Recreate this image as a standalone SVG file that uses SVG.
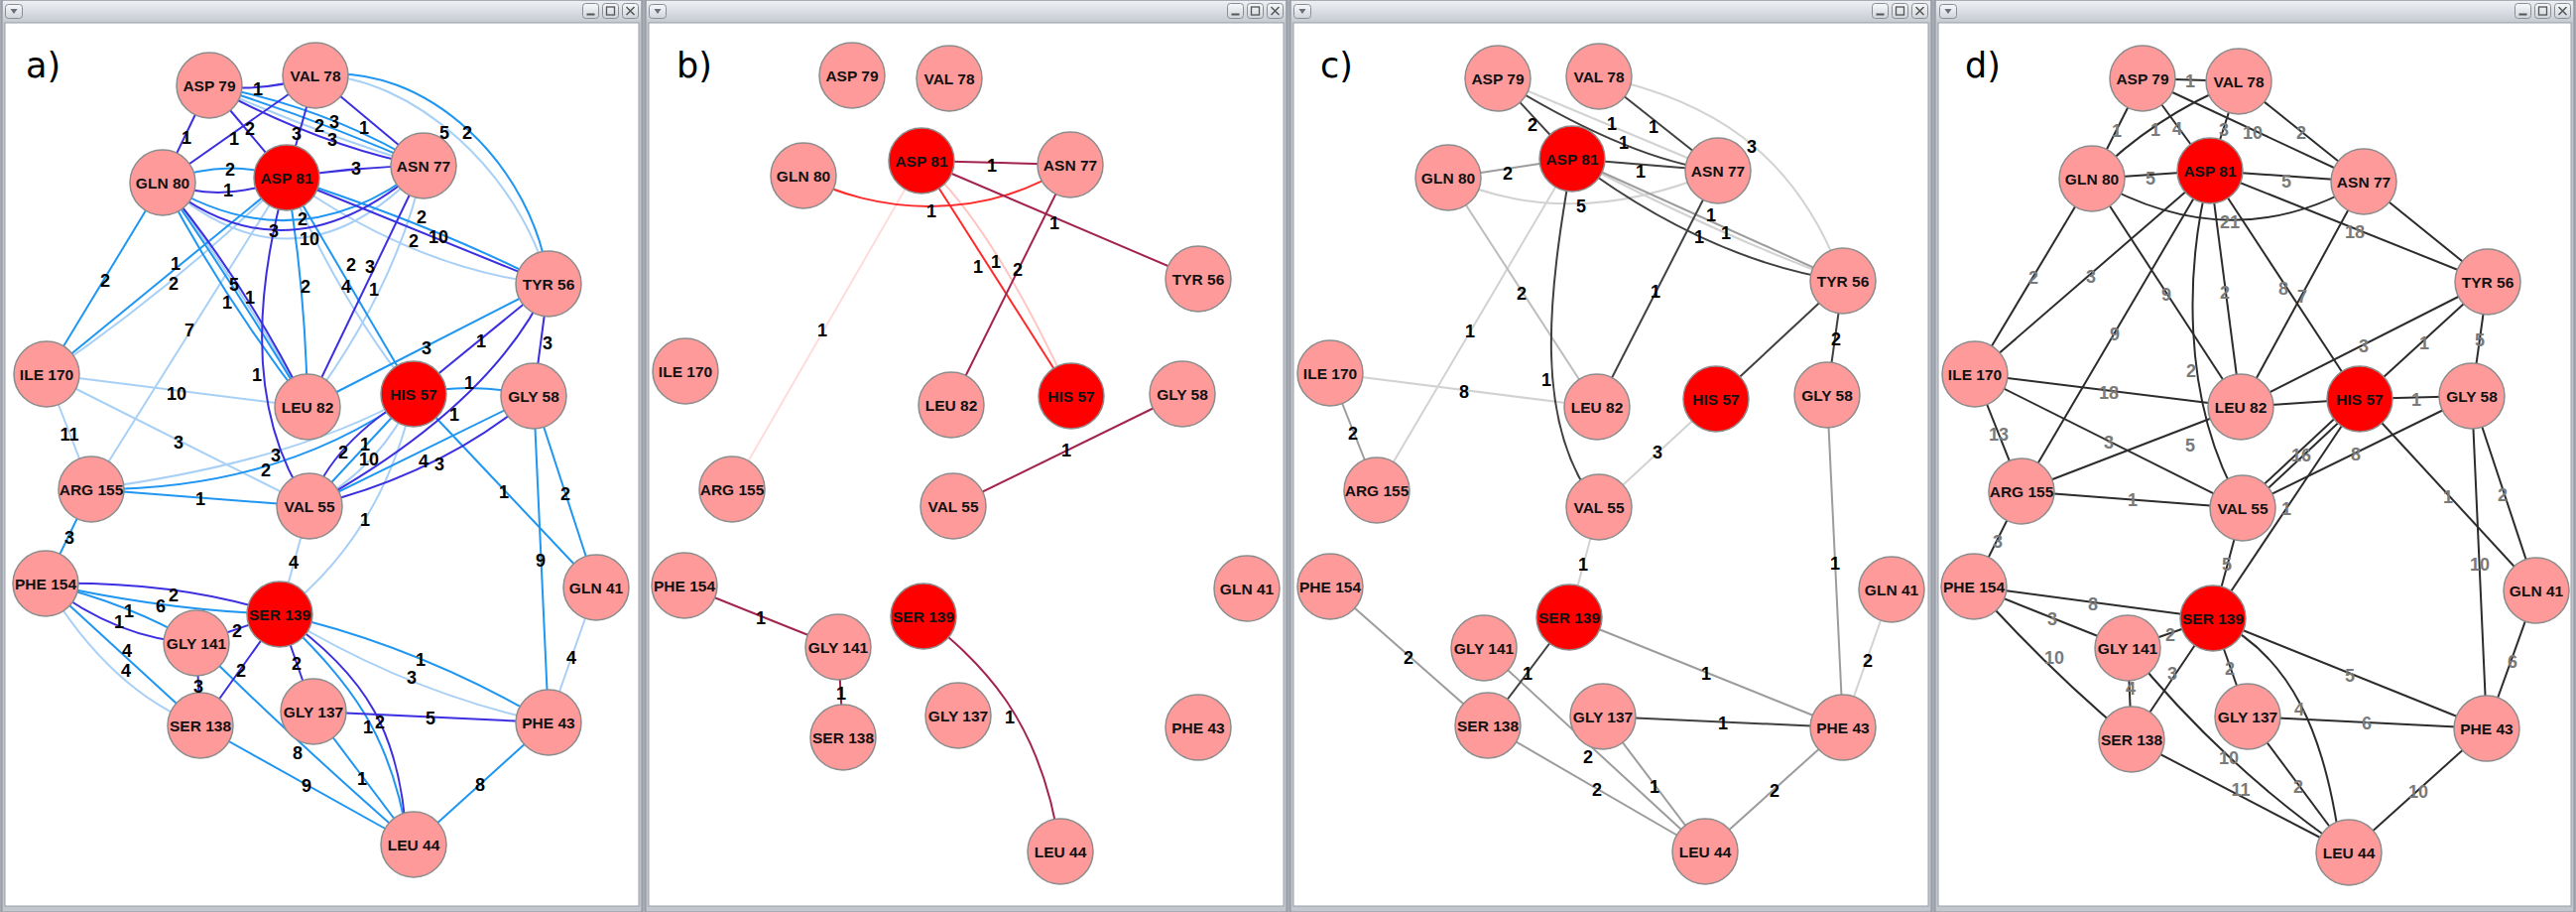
<svg xmlns="http://www.w3.org/2000/svg" width="2597" height="919" viewBox="0 0 2597 919">
<defs>
<linearGradient id="tbg" x1="0" y1="0" x2="0" y2="1"><stop offset="0" stop-color="#eef0f4"/><stop offset="1" stop-color="#c6cad2"/></linearGradient>
<linearGradient id="btg" x1="0" y1="0" x2="0" y2="1"><stop offset="0" stop-color="#f8f9fb"/><stop offset="1" stop-color="#cfd3da"/></linearGradient>
<g id="btnL"><rect x="0.5" y="0.5" width="17" height="14" rx="3" fill="url(#btg)" stroke="#8a8e96"/><path d="M5.5,5 h7 l-3.5,5 z" fill="#6a6e76"/></g>
<g id="btnR"><rect x="0.5" y="0.5" width="16" height="15" rx="3" fill="url(#btg)" stroke="#8a8e96"/><path d="M4.5,11.5 h8" stroke="#555" stroke-width="2"/><rect x="20.5" y="0.5" width="16" height="15" rx="3" fill="url(#btg)" stroke="#8a8e96"/><rect x="24.5" y="4" width="8" height="8" fill="none" stroke="#555" stroke-width="1.3"/><rect x="40.5" y="0.5" width="16" height="15" rx="3" fill="url(#btg)" stroke="#8a8e96"/><path d="M44.5,4 l8,8 M52.5,4 l-8,8" stroke="#555" stroke-width="1.5"/></g>
</defs>
<style>
.frame{fill:#c2c6ce;stroke:#8e929a;stroke-width:1}
.tb{fill:url(#tbg)}
.content{fill:#ffffff;stroke:#9a9ea6;stroke-width:1}
.node circle{stroke:#8c8c8c;stroke-width:1.5}
.p{fill:#ff9a9a}
.r{fill:#ff0000}
.nt{font-family:"Liberation Sans",Arial,sans-serif;font-weight:bold;font-size:15.5px;text-anchor:middle;fill:#111}
.el{font-family:"Liberation Sans",Arial,sans-serif;font-weight:bold;font-size:18px;text-anchor:middle;fill:#000}
.eg{fill:#7a7a7a}
.pl{font-family:"DejaVu Sans",sans-serif;font-size:35px;fill:#000}
.e path,.e line{fill:none;stroke-width:2}
.ad{stroke:#3b2fe0}.am{stroke:#1e96f2}.al{stroke:#a8d0f6}
.bm{stroke:#a3234f}.br{stroke:#ff2a2a}.bl{stroke:#ffc4c4}.bv{stroke:#ffdcdc}
.cd{stroke:#404040}.cg{stroke:#9c9c9c}.cl{stroke:#d2d2d2}.cm{stroke:#bdbdbd}
.dd{stroke:#2c2c2c}
</style>
<rect x="0" y="0" width="2597" height="919" fill="#a6aab2"/>

<!-- ============ PANEL A ============ -->
<g id="panel-a">
<rect class="frame" x="2" y="0" width="645" height="919"/>
<rect class="tb" x="3" y="1" width="643" height="21"/>
<use href="#btnL" x="5" y="4"/>
<use href="#btnR" x="587" y="3"/>
<rect class="content" x="5" y="23" width="639" height="890"/>
<text class="pl" x="26" y="78">a)</text>
<g id="a-connectors" class="e">
<path class="al" d="M211,86 Q320,135 427,167"/>
<path class="al" d="M318,76 C415,75 525,175 553,286"/>
<path class="al" d="M164,184 Q300,305 427,167"/>
<path class="al" d="M289,179 Q420,272 553,286"/>
<path class="al" d="M289,179 Q340,300 417,397"/>
<path class="al" d="M427,167 Q400,290 310,410"/>
<path class="al" d="M289,179 Q175,290 47,377"/>
<line class="al" x1="289" y1="179" x2="92" y2="493"/>
<path class="al" d="M164,184 Q245,290 310,410"/>
<path class="al" d="M417,397 Q385,470 312,510"/>
<path class="al" d="M417,397 Q301,465 92,493"/>
<path class="al" d="M417,397 Q387,538 282,619"/>
<line class="al" x1="47" y1="377" x2="310" y2="410"/>
<line class="al" x1="47" y1="377" x2="312" y2="510"/>
<line class="al" x1="47" y1="377" x2="92" y2="493"/>
<line class="al" x1="312" y1="510" x2="282" y2="619"/>
<path class="al" d="M46,588 Q112,697 202,731"/>
<path class="al" d="M282,619 Q415,700 553,728"/>
<line class="al" x1="601" y1="592" x2="553" y2="728"/>
<path class="am" d="M211,86 Q320,120 427,167"/>
<path class="am" d="M211,86 Q330,108 427,167"/>
<path class="am" d="M318,76 C430,60 540,170 553,286"/>
<path class="am" d="M164,184 Q226,158 289,179"/>
<path class="am" d="M164,184 Q300,268 427,167"/>
<path class="am" d="M289,179 Q440,228 553,286"/>
<line class="am" x1="289" y1="179" x2="417" y2="397"/>
<line class="am" x1="164" y1="184" x2="47" y2="377"/>
<line class="am" x1="289" y1="179" x2="47" y2="377"/>
<path class="am" d="M164,184 Q235,285 310,410"/>
<path class="am" d="M164,184 Q226,302 310,410"/>
<path class="am" d="M289,179 Q308,290 310,410"/>
<line class="am" x1="553" y1="286" x2="310" y2="410"/>
<path class="am" d="M417,397 Q477,384 538,399"/>
<line class="am" x1="417" y1="397" x2="312" y2="510"/>
<line class="am" x1="538" y1="399" x2="312" y2="510"/>
<path class="am" d="M417,397 Q281,495 92,493"/>
<line class="am" x1="417" y1="397" x2="601" y2="592"/>
<line class="am" x1="538" y1="399" x2="601" y2="592"/>
<line class="am" x1="538" y1="399" x2="553" y2="728"/>
<line class="am" x1="92" y1="493" x2="312" y2="510"/>
<line class="am" x1="92" y1="493" x2="46" y2="588"/>
<path class="am" d="M46,588 Q165,615 282,619"/>
<path class="am" d="M46,588 Q130,608 198,648"/>
<line class="am" x1="46" y1="588" x2="202" y2="731"/>
<path class="am" d="M282,619 Q420,650 553,728"/>
<path class="am" d="M282,619 C355,690 395,740 412,851"/>
<path class="am" d="M198,648 Q290,740 417,851"/>
<line class="am" x1="202" y1="731" x2="417" y2="851"/>
<line class="am" x1="316" y1="717" x2="417" y2="851"/>
<line class="am" x1="553" y1="728" x2="417" y2="851"/>
<path class="ad" d="M211,86 Q265,94 318,76"/>
<line class="ad" x1="211" y1="86" x2="164" y2="184"/>
<line class="ad" x1="211" y1="86" x2="289" y2="179"/>
<line class="ad" x1="318" y1="76" x2="164" y2="184"/>
<line class="ad" x1="318" y1="76" x2="289" y2="179"/>
<line class="ad" x1="318" y1="76" x2="427" y2="167"/>
<path class="ad" d="M211,86 Q325,148 427,167"/>
<path class="ad" d="M164,184 Q226,206 289,179"/>
<path class="ad" d="M289,179 Q358,168 427,167"/>
<path class="ad" d="M164,184 Q290,288 427,167"/>
<line class="ad" x1="289" y1="179" x2="553" y2="286"/>
<line class="ad" x1="427" y1="167" x2="310" y2="410"/>
<path class="ad" d="M164,184 Q250,288 310,410"/>
<path class="ad" d="M289,179 C255,300 250,420 312,510"/>
<line class="ad" x1="553" y1="286" x2="417" y2="397"/>
<line class="ad" x1="553" y1="286" x2="538" y2="399"/>
<path class="ad" d="M553,286 Q495,410 312,510"/>
<path class="ad" d="M417,397 Q335,445 312,510"/>
<path class="ad" d="M538,399 Q445,478 312,510"/>
<path class="ad" d="M46,588 Q180,585 282,619"/>
<path class="ad" d="M46,588 Q120,645 198,648"/>
<line class="ad" x1="198" y1="648" x2="282" y2="619"/>
<line class="ad" x1="198" y1="648" x2="202" y2="731"/>
<line class="ad" x1="202" y1="731" x2="282" y2="619"/>
<line class="ad" x1="282" y1="619" x2="316" y2="717"/>
<line class="ad" x1="316" y1="717" x2="553" y2="728"/>
<path class="ad" d="M282,619 C370,680 405,740 410,851"/>
</g>
<g id="a-nodes">
<g id="a-asp79" class="node"><circle class="p" cx="211" cy="86" r="33"/><text class="nt" x="211" y="91.5">ASP 79</text></g>
<g id="a-val78" class="node"><circle class="p" cx="318" cy="76" r="33"/><text class="nt" x="318" y="81.5">VAL 78</text></g>
<g id="a-gln80" class="node"><circle class="p" cx="164" cy="184" r="33"/><text class="nt" x="164" y="189.5">GLN 80</text></g>
<g id="a-asp81" class="node"><circle class="r" cx="289" cy="179" r="33"/><text class="nt" x="289" y="184.5">ASP 81</text></g>
<g id="a-asn77" class="node"><circle class="p" cx="427" cy="167" r="33"/><text class="nt" x="427" y="172.5">ASN 77</text></g>
<g id="a-tyr56" class="node"><circle class="p" cx="553" cy="286" r="33"/><text class="nt" x="553" y="291.5">TYR 56</text></g>
<g id="a-ile170" class="node"><circle class="p" cx="47" cy="377" r="33"/><text class="nt" x="47" y="382.5">ILE 170</text></g>
<g id="a-leu82" class="node"><circle class="p" cx="310" cy="410" r="33"/><text class="nt" x="310" y="415.5">LEU 82</text></g>
<g id="a-his57" class="node"><circle class="r" cx="417" cy="397" r="33"/><text class="nt" x="417" y="402.5">HIS 57</text></g>
<g id="a-gly58" class="node"><circle class="p" cx="538" cy="399" r="33"/><text class="nt" x="538" y="404.5">GLY 58</text></g>
<g id="a-arg155" class="node"><circle class="p" cx="92" cy="493" r="33"/><text class="nt" x="92" y="498.5">ARG 155</text></g>
<g id="a-val55" class="node"><circle class="p" cx="312" cy="510" r="33"/><text class="nt" x="312" y="515.5">VAL 55</text></g>
<g id="a-phe154" class="node"><circle class="p" cx="46" cy="588" r="33"/><text class="nt" x="46" y="593.5">PHE 154</text></g>
<g id="a-ser139" class="node"><circle class="r" cx="282" cy="619" r="33"/><text class="nt" x="282" y="624.5">SER 139</text></g>
<g id="a-gln41" class="node"><circle class="p" cx="601" cy="592" r="33"/><text class="nt" x="601" y="597.5">GLN 41</text></g>
<g id="a-gly141" class="node"><circle class="p" cx="198" cy="648" r="33"/><text class="nt" x="198" y="653.5">GLY 141</text></g>
<g id="a-ser138" class="node"><circle class="p" cx="202" cy="731" r="33"/><text class="nt" x="202" y="736.5">SER 138</text></g>
<g id="a-gly137" class="node"><circle class="p" cx="316" cy="717" r="33"/><text class="nt" x="316" y="722.5">GLY 137</text></g>
<g id="a-phe43" class="node"><circle class="p" cx="553" cy="728" r="33"/><text class="nt" x="553" y="733.5">PHE 43</text></g>
<g id="a-leu44" class="node"><circle class="p" cx="417" cy="851" r="33"/><text class="nt" x="417" y="856.5">LEU 44</text></g>
</g>
<g id="a-labels" class="el">
<text x="260" y="95.5">1</text><text x="188" y="144.5">1</text><text x="252" y="135.5">2</text><text x="236" y="145.5">1</text>
<text x="299" y="140.5">3</text><text x="367" y="134.5">1</text><text x="322" y="132.5">2</text><text x="337" y="128.5">3</text>
<text x="335" y="146.5">3</text><text x="448" y="139.5">5</text><text x="471" y="139.5">2</text><text x="232" y="176.5">2</text>
<text x="230" y="197.5">1</text><text x="359" y="175.5">3</text><text x="305" y="226.5">2</text><text x="276" y="238.5">3</text>
<text x="312" y="246.5">10</text><text x="425" y="224.5">2</text><text x="417" y="248.5">2</text><text x="442" y="244.5">10</text>
<text x="354" y="272.5">2</text><text x="373" y="274.5">3</text><text x="177" y="271.5">1</text><text x="175" y="291.5">2</text>
<text x="106" y="288.5">2</text><text x="236" y="292.5">5</text><text x="229" y="310.5">1</text><text x="252" y="305.5">1</text>
<text x="308" y="294.5">2</text><text x="349" y="294.5">4</text><text x="377" y="297.5">1</text><text x="191" y="338.5">7</text>
<text x="259" y="383.5">1</text><text x="430" y="356.5">3</text><text x="485" y="349.5">1</text><text x="552" y="351.5">3</text>
<text x="473" y="391.5">1</text><text x="178" y="402.5">10</text><text x="458" y="423.5">1</text><text x="70" y="443.5">11</text>
<text x="180" y="451.5">3</text><text x="278" y="464.5">3</text><text x="268" y="479.5">2</text><text x="346" y="461.5">2</text>
<text x="368" y="453.5">1</text><text x="372" y="468.5">10</text><text x="427" y="470.5">4</text><text x="443" y="473.5">3</text>
<text x="508" y="501.5">1</text><text x="570" y="503.5">2</text><text x="202" y="508.5">1</text><text x="368" y="529.5">1</text>
<text x="70" y="547.5">3</text><text x="545" y="570.5">9</text><text x="296" y="572.5">4</text><text x="175" y="605.5">2</text>
<text x="162" y="616.5">6</text><text x="130" y="621.5">1</text><text x="120" y="632.5">1</text><text x="239" y="641.5">2</text>
<text x="128" y="661.5">4</text><text x="127" y="681.5">4</text><text x="243" y="681.5">2</text><text x="299" y="674.5">2</text>
<text x="200" y="697.5">3</text><text x="424" y="670.5">1</text><text x="415" y="688.5">3</text><text x="576" y="668.5">4</text>
<text x="434" y="729.5">5</text><text x="383" y="733.5">2</text><text x="371" y="738.5">1</text><text x="300" y="764.5">8</text>
<text x="365" y="790.5">1</text><text x="309" y="797.5">9</text><text x="484" y="796.5">8</text>
</g>
</g>

<!-- ============ PANEL B ============ -->
<g id="panel-b">
<rect class="frame" x="651" y="0" width="646" height="919"/>
<rect class="tb" x="652" y="1" width="644" height="21"/>
<use href="#btnL" x="654" y="4"/>
<use href="#btnR" x="1237" y="3"/>
<rect class="content" x="654" y="23" width="640" height="890"/>
<text class="pl" x="682" y="78">b)</text>
<g id="b-connectors" class="e">
<line class="bv" x1="929" y1="162" x2="738" y2="493"/>
<path class="bl" d="M929,162 Q1000,225 1080,399"/>
<line class="bm" x1="929" y1="162" x2="1079" y2="166"/>
<path class="br" d="M810,177 C880,215 990,225 1079,166"/>
<line class="bm" x1="929" y1="162" x2="1208" y2="281"/>
<line class="br" x1="929" y1="162" x2="1080" y2="399"/>
<line class="bm" x1="1079" y1="166" x2="959" y2="408"/>
<line class="bm" x1="1192" y1="397" x2="961" y2="510"/>
<line class="bm" x1="690" y1="590" x2="845" y2="652"/>
<line class="bm" x1="845" y1="652" x2="850" y2="743"/>
<path class="bm" d="M931,621 C985,665 1050,720 1069,858"/>
</g>
<g id="b-nodes">
<g id="b-asp79" class="node"><circle class="p" cx="859" cy="76" r="33"/><text class="nt" x="859" y="81.5">ASP 79</text></g>
<g id="b-val78" class="node"><circle class="p" cx="957" cy="79" r="33"/><text class="nt" x="957" y="84.5">VAL 78</text></g>
<g id="b-gln80" class="node"><circle class="p" cx="810" cy="177" r="33"/><text class="nt" x="810" y="182.5">GLN 80</text></g>
<g id="b-asp81" class="node"><circle class="r" cx="929" cy="162" r="33"/><text class="nt" x="929" y="167.5">ASP 81</text></g>
<g id="b-asn77" class="node"><circle class="p" cx="1079" cy="166" r="33"/><text class="nt" x="1079" y="171.5">ASN 77</text></g>
<g id="b-tyr56" class="node"><circle class="p" cx="1208" cy="281" r="33"/><text class="nt" x="1208" y="286.5">TYR 56</text></g>
<g id="b-ile170" class="node"><circle class="p" cx="691" cy="374" r="33"/><text class="nt" x="691" y="379.5">ILE 170</text></g>
<g id="b-leu82" class="node"><circle class="p" cx="959" cy="408" r="33"/><text class="nt" x="959" y="413.5">LEU 82</text></g>
<g id="b-his57" class="node"><circle class="r" cx="1080" cy="399" r="33"/><text class="nt" x="1080" y="404.5">HIS 57</text></g>
<g id="b-gly58" class="node"><circle class="p" cx="1192" cy="397" r="33"/><text class="nt" x="1192" y="402.5">GLY 58</text></g>
<g id="b-arg155" class="node"><circle class="p" cx="738" cy="493" r="33"/><text class="nt" x="738" y="498.5">ARG 155</text></g>
<g id="b-val55" class="node"><circle class="p" cx="961" cy="510" r="33"/><text class="nt" x="961" y="515.5">VAL 55</text></g>
<g id="b-phe154" class="node"><circle class="p" cx="690" cy="590" r="33"/><text class="nt" x="690" y="595.5">PHE 154</text></g>
<g id="b-ser139" class="node"><circle class="r" cx="931" cy="621" r="33"/><text class="nt" x="931" y="626.5">SER 139</text></g>
<g id="b-gln41" class="node"><circle class="p" cx="1257" cy="593" r="33"/><text class="nt" x="1257" y="598.5">GLN 41</text></g>
<g id="b-gly141" class="node"><circle class="p" cx="845" cy="652" r="33"/><text class="nt" x="845" y="657.5">GLY 141</text></g>
<g id="b-ser138" class="node"><circle class="p" cx="850" cy="743" r="33"/><text class="nt" x="850" y="748.5">SER 138</text></g>
<g id="b-gly137" class="node"><circle class="p" cx="966" cy="721" r="33"/><text class="nt" x="966" y="726.5">GLY 137</text></g>
<g id="b-phe43" class="node"><circle class="p" cx="1208" cy="733" r="33"/><text class="nt" x="1208" y="738.5">PHE 43</text></g>
<g id="b-leu44" class="node"><circle class="p" cx="1069" cy="858" r="33"/><text class="nt" x="1069" y="863.5">LEU 44</text></g>
</g>
<g id="b-labels" class="el">
<text x="1000" y="172.5">1</text><text x="939" y="218.5">1</text><text x="1063" y="230.5">1</text><text x="986" y="274.5">1</text>
<text x="1004" y="269.5">1</text><text x="1026" y="277.5">2</text><text x="829" y="338.5">1</text><text x="1075" y="459.5">1</text>
<text x="767" y="628.5">1</text><text x="848" y="704.5">1</text><text x="1018" y="728.5">1</text>
</g>
</g>

<!-- ============ PANEL C ============ -->
<g id="panel-c">
<rect class="frame" x="1301" y="0" width="646" height="919"/>
<rect class="tb" x="1302" y="1" width="644" height="21"/>
<use href="#btnL" x="1304" y="4"/>
<use href="#btnR" x="1887" y="3"/>
<rect class="content" x="1304" y="23" width="640" height="890"/>
<text class="pl" x="1331" y="78">c)</text>
<g id="c-connectors" class="e">
<line class="cl" x1="1510" y1="79" x2="1732" y2="172"/>
<path class="cl" d="M1612,77 C1720,100 1810,150 1858,283"/>
<path class="cl" d="M1460,179 Q1584,235 1732,172"/>
<path class="cl" d="M1585,160 Q1735,238 1858,283"/>
<line class="cl" x1="1585" y1="160" x2="1388" y2="494"/>
<line class="cl" x1="1341" y1="376" x2="1610" y2="410"/>
<line class="cl" x1="1730" y1="402" x2="1612" y2="511"/>
<line class="cl" x1="1612" y1="511" x2="1582" y2="622"/>
<line class="cl" x1="1907" y1="594" x2="1858" y2="733"/>
<line class="cm" x1="1460" y1="179" x2="1610" y2="410"/>
<line class="cg" x1="1460" y1="179" x2="1585" y2="160"/>
<line class="cg" x1="1585" y1="160" x2="1858" y2="283"/>
<line class="cg" x1="1341" y1="376" x2="1388" y2="494"/>
<line class="cg" x1="1842" y1="398" x2="1858" y2="733"/>
<line class="cg" x1="1582" y1="622" x2="1858" y2="733"/>
<line class="cg" x1="1341" y1="591" x2="1500" y2="731"/>
<line class="cg" x1="1496" y1="653" x2="1719" y2="858"/>
<line class="cg" x1="1500" y1="731" x2="1719" y2="858"/>
<line class="cg" x1="1616" y1="722" x2="1719" y2="858"/>
<line class="cg" x1="1858" y1="733" x2="1719" y2="858"/>
<line class="cd" x1="1510" y1="79" x2="1585" y2="160"/>
<path class="cd" d="M1510,79 Q1640,160 1732,172"/>
<line class="cd" x1="1612" y1="77" x2="1732" y2="172"/>
<line class="cd" x1="1585" y1="160" x2="1732" y2="172"/>
<path class="cd" d="M1585,160 C1560,300 1545,430 1612,511"/>
<path class="cd" d="M1585,160 Q1720,262 1858,283"/>
<line class="cd" x1="1732" y1="172" x2="1610" y2="410"/>
<line class="cd" x1="1858" y1="283" x2="1730" y2="402"/>
<line class="cd" x1="1858" y1="283" x2="1842" y2="398"/>
<line class="cd" x1="1582" y1="622" x2="1500" y2="731"/>
<line class="cd" x1="1616" y1="722" x2="1858" y2="733"/>
</g>
<g id="c-nodes">
<g id="c-asp79" class="node"><circle class="p" cx="1510" cy="79" r="33"/><text class="nt" x="1510" y="84.5">ASP 79</text></g>
<g id="c-val78" class="node"><circle class="p" cx="1612" cy="77" r="33"/><text class="nt" x="1612" y="82.5">VAL 78</text></g>
<g id="c-gln80" class="node"><circle class="p" cx="1460" cy="179" r="33"/><text class="nt" x="1460" y="184.5">GLN 80</text></g>
<g id="c-asp81" class="node"><circle class="r" cx="1585" cy="160" r="33"/><text class="nt" x="1585" y="165.5">ASP 81</text></g>
<g id="c-asn77" class="node"><circle class="p" cx="1732" cy="172" r="33"/><text class="nt" x="1732" y="177.5">ASN 77</text></g>
<g id="c-tyr56" class="node"><circle class="p" cx="1858" cy="283" r="33"/><text class="nt" x="1858" y="288.5">TYR 56</text></g>
<g id="c-ile170" class="node"><circle class="p" cx="1341" cy="376" r="33"/><text class="nt" x="1341" y="381.5">ILE 170</text></g>
<g id="c-leu82" class="node"><circle class="p" cx="1610" cy="410" r="33"/><text class="nt" x="1610" y="415.5">LEU 82</text></g>
<g id="c-his57" class="node"><circle class="r" cx="1730" cy="402" r="33"/><text class="nt" x="1730" y="407.5">HIS 57</text></g>
<g id="c-gly58" class="node"><circle class="p" cx="1842" cy="398" r="33"/><text class="nt" x="1842" y="403.5">GLY 58</text></g>
<g id="c-arg155" class="node"><circle class="p" cx="1388" cy="494" r="33"/><text class="nt" x="1388" y="499.5">ARG 155</text></g>
<g id="c-val55" class="node"><circle class="p" cx="1612" cy="511" r="33"/><text class="nt" x="1612" y="516.5">VAL 55</text></g>
<g id="c-phe154" class="node"><circle class="p" cx="1341" cy="591" r="33"/><text class="nt" x="1341" y="596.5">PHE 154</text></g>
<g id="c-ser139" class="node"><circle class="r" cx="1582" cy="622" r="33"/><text class="nt" x="1582" y="627.5">SER 139</text></g>
<g id="c-gln41" class="node"><circle class="p" cx="1907" cy="594" r="33"/><text class="nt" x="1907" y="599.5">GLN 41</text></g>
<g id="c-gly141" class="node"><circle class="p" cx="1496" cy="653" r="33"/><text class="nt" x="1496" y="658.5">GLY 141</text></g>
<g id="c-ser138" class="node"><circle class="p" cx="1500" cy="731" r="33"/><text class="nt" x="1500" y="736.5">SER 138</text></g>
<g id="c-gly137" class="node"><circle class="p" cx="1616" cy="722" r="33"/><text class="nt" x="1616" y="727.5">GLY 137</text></g>
<g id="c-phe43" class="node"><circle class="p" cx="1858" cy="733" r="33"/><text class="nt" x="1858" y="738.5">PHE 43</text></g>
<g id="c-leu44" class="node"><circle class="p" cx="1719" cy="858" r="33"/><text class="nt" x="1719" y="863.5">LEU 44</text></g>
</g>
<g id="c-labels" class="el">
<text x="1545" y="131.5">2</text><text x="1637" y="149.5">1</text><text x="1625" y="130.5">1</text><text x="1667" y="133.5">1</text>
<text x="1766" y="153.5">3</text><text x="1520" y="180.5">2</text><text x="1654" y="178.5">1</text><text x="1594" y="213.5">5</text>
<text x="1559" y="388.5">1</text><text x="1713" y="244.5">1</text><text x="1725" y="222.5">1</text><text x="1740" y="240.5">1</text>
<text x="1669" y="299.5">1</text><text x="1534" y="301.5">2</text><text x="1482" y="339.5">1</text><text x="1476" y="400.5">8</text>
<text x="1364" y="442.5">2</text><text x="1851" y="347.5">2</text><text x="1671" y="461.5">3</text><text x="1850" y="573.5">1</text>
<text x="1596" y="574.5">1</text><text x="1540" y="684.5">1</text><text x="1720" y="684.5">1</text><text x="1420" y="668.5">2</text>
<text x="1883" y="671.5">2</text><text x="1737" y="734.5">1</text><text x="1601" y="768.5">2</text><text x="1610" y="801.5">2</text>
<text x="1668" y="798.5">1</text><text x="1789" y="802.5">2</text>
</g>
</g>

<!-- ============ PANEL D ============ -->
<g id="panel-d">
<rect class="frame" x="1951" y="0" width="644" height="919"/>
<rect class="tb" x="1952" y="1" width="642" height="21"/>
<use href="#btnL" x="1955" y="4"/>
<use href="#btnR" x="2535" y="3"/>
<rect class="content" x="1954" y="23" width="638" height="890"/>
<text class="pl" x="1981" y="78">d)</text>
<g id="d-connectors" class="e">
<line class="dd" x1="2160" y1="79" x2="2257" y2="82"/>
<line class="dd" x1="2160" y1="79" x2="2109" y2="180"/>
<path class="dd" d="M2257,82 Q2170,118 2109,180"/>
<line class="dd" x1="2160" y1="79" x2="2228" y2="172"/>
<line class="dd" x1="2257" y1="82" x2="2228" y2="172"/>
<line class="dd" x1="2160" y1="79" x2="2383" y2="183"/>
<line class="dd" x1="2257" y1="82" x2="2383" y2="183"/>
<line class="dd" x1="2109" y1="180" x2="2228" y2="172"/>
<line class="dd" x1="2228" y1="172" x2="2383" y2="183"/>
<path class="dd" d="M2109,180 Q2250,262 2383,183"/>
<line class="dd" x1="2228" y1="172" x2="2508" y2="284"/>
<line class="dd" x1="2383" y1="183" x2="2508" y2="284"/>
<line class="dd" x1="2109" y1="180" x2="1991" y2="377"/>
<line class="dd" x1="2228" y1="172" x2="1991" y2="377"/>
<line class="dd" x1="2109" y1="180" x2="2259" y2="410"/>
<line class="dd" x1="2228" y1="172" x2="2259" y2="410"/>
<line class="dd" x1="2228" y1="172" x2="2379" y2="402"/>
<line class="dd" x1="2383" y1="183" x2="2259" y2="410"/>
<line class="dd" x1="2228" y1="172" x2="2038" y2="495"/>
<path class="dd" d="M2228,172 C2205,260 2195,400 2261,512"/>
<line class="dd" x1="2508" y1="284" x2="2259" y2="410"/>
<line class="dd" x1="2508" y1="284" x2="2379" y2="402"/>
<line class="dd" x1="2508" y1="284" x2="2492" y2="399"/>
<line class="dd" x1="1991" y1="377" x2="2259" y2="410"/>
<line class="dd" x1="2379" y1="402" x2="2492" y2="399"/>
<line class="dd" x1="1991" y1="377" x2="2038" y2="495"/>
<line class="dd" x1="1991" y1="377" x2="2261" y2="512"/>
<line class="dd" x1="2259" y1="410" x2="2038" y2="495"/>
<line class="dd" x1="2259" y1="410" x2="2379" y2="402"/>
<line class="dd" x1="2381" y1="404" x2="2263" y2="514"/>
<line class="dd" x1="2377" y1="400" x2="2259" y2="510"/>
<line class="dd" x1="2379" y1="402" x2="2231" y2="623"/>
<line class="dd" x1="2492" y1="399" x2="2261" y2="512"/>
<line class="dd" x1="2379" y1="402" x2="2557" y2="595"/>
<line class="dd" x1="2492" y1="399" x2="2557" y2="595"/>
<line class="dd" x1="2492" y1="399" x2="2507" y2="734"/>
<line class="dd" x1="2038" y1="495" x2="2261" y2="512"/>
<line class="dd" x1="2038" y1="495" x2="1990" y2="591"/>
<line class="dd" x1="2261" y1="512" x2="2231" y2="623"/>
<line class="dd" x1="1990" y1="591" x2="2231" y2="623"/>
<line class="dd" x1="1990" y1="591" x2="2145" y2="653"/>
<path class="dd" d="M1990,591 Q2065,675 2149,745"/>
<line class="dd" x1="2145" y1="653" x2="2231" y2="623"/>
<line class="dd" x1="2145" y1="653" x2="2149" y2="745"/>
<line class="dd" x1="2149" y1="745" x2="2231" y2="623"/>
<line class="dd" x1="2231" y1="623" x2="2266" y2="722"/>
<path class="dd" d="M2231,623 C2310,660 2345,740 2360,859"/>
<line class="dd" x1="2231" y1="623" x2="2507" y2="734"/>
<line class="dd" x1="2266" y1="722" x2="2507" y2="734"/>
<line class="dd" x1="2557" y1="595" x2="2507" y2="734"/>
<path class="dd" d="M2145,653 Q2243,774 2368,859"/>
<line class="dd" x1="2149" y1="745" x2="2368" y2="859"/>
<line class="dd" x1="2266" y1="722" x2="2368" y2="859"/>
<line class="dd" x1="2507" y1="734" x2="2368" y2="859"/>
</g>
<g id="d-nodes">
<g id="d-asp79" class="node"><circle class="p" cx="2160" cy="79" r="33"/><text class="nt" x="2160" y="84.5">ASP 79</text></g>
<g id="d-val78" class="node"><circle class="p" cx="2257" cy="82" r="33"/><text class="nt" x="2257" y="87.5">VAL 78</text></g>
<g id="d-gln80" class="node"><circle class="p" cx="2109" cy="180" r="33"/><text class="nt" x="2109" y="185.5">GLN 80</text></g>
<g id="d-asp81" class="node"><circle class="r" cx="2228" cy="172" r="33"/><text class="nt" x="2228" y="177.5">ASP 81</text></g>
<g id="d-asn77" class="node"><circle class="p" cx="2383" cy="183" r="33"/><text class="nt" x="2383" y="188.5">ASN 77</text></g>
<g id="d-tyr56" class="node"><circle class="p" cx="2508" cy="284" r="33"/><text class="nt" x="2508" y="289.5">TYR 56</text></g>
<g id="d-ile170" class="node"><circle class="p" cx="1991" cy="377" r="33"/><text class="nt" x="1991" y="382.5">ILE 170</text></g>
<g id="d-leu82" class="node"><circle class="p" cx="2259" cy="410" r="33"/><text class="nt" x="2259" y="415.5">LEU 82</text></g>
<g id="d-his57" class="node"><circle class="r" cx="2379" cy="402" r="33"/><text class="nt" x="2379" y="407.5">HIS 57</text></g>
<g id="d-gly58" class="node"><circle class="p" cx="2492" cy="399" r="33"/><text class="nt" x="2492" y="404.5">GLY 58</text></g>
<g id="d-arg155" class="node"><circle class="p" cx="2038" cy="495" r="33"/><text class="nt" x="2038" y="500.5">ARG 155</text></g>
<g id="d-val55" class="node"><circle class="p" cx="2261" cy="512" r="33"/><text class="nt" x="2261" y="517.5">VAL 55</text></g>
<g id="d-phe154" class="node"><circle class="p" cx="1990" cy="591" r="33"/><text class="nt" x="1990" y="596.5">PHE 154</text></g>
<g id="d-ser139" class="node"><circle class="r" cx="2231" cy="623" r="33"/><text class="nt" x="2231" y="628.5">SER 139</text></g>
<g id="d-gln41" class="node"><circle class="p" cx="2557" cy="595" r="33"/><text class="nt" x="2557" y="600.5">GLN 41</text></g>
<g id="d-gly141" class="node"><circle class="p" cx="2145" cy="653" r="33"/><text class="nt" x="2145" y="658.5">GLY 141</text></g>
<g id="d-ser138" class="node"><circle class="p" cx="2149" cy="745" r="33"/><text class="nt" x="2149" y="750.5">SER 138</text></g>
<g id="d-gly137" class="node"><circle class="p" cx="2266" cy="722" r="33"/><text class="nt" x="2266" y="727.5">GLY 137</text></g>
<g id="d-phe43" class="node"><circle class="p" cx="2507" cy="734" r="33"/><text class="nt" x="2507" y="739.5">PHE 43</text></g>
<g id="d-leu44" class="node"><circle class="p" cx="2368" cy="859" r="33"/><text class="nt" x="2368" y="864.5">LEU 44</text></g>
</g>
<g id="d-labels" class="el eg">
<text x="2208" y="87.5">1</text><text x="2134" y="137.5">1</text><text x="2173" y="136.5">1</text><text x="2195" y="135.5">4</text>
<text x="2242" y="136.5">3</text><text x="2271" y="139.5">10</text><text x="2320" y="139.5">2</text><text x="2168" y="185.5">5</text>
<text x="2305" y="188.5">5</text><text x="2248" y="229.5">21</text><text x="2374" y="239.5">18</text><text x="2050" y="285.5">2</text>
<text x="2108" y="284.5">3</text><text x="2184" y="302.5">9</text><text x="2243" y="300.5">2</text><text x="2302" y="296.5">8</text>
<text x="2321" y="304.5">7</text><text x="2132" y="342.5">9</text><text x="2209" y="379.5">2</text><text x="2383" y="354.5">3</text>
<text x="2444" y="351.5">1</text><text x="2500" y="348.5">5</text><text x="2126" y="401.5">18</text><text x="2436" y="408.5">1</text>
<text x="2015" y="443.5">13</text><text x="2126" y="451.5">3</text><text x="2208" y="454.5">5</text><text x="2320" y="464.5">16</text>
<text x="2375" y="463.5">8</text><text x="2305" y="518.5">1</text><text x="2468" y="506.5">1</text><text x="2523" y="504.5">2</text>
<text x="2500" y="574.5">10</text><text x="2150" y="509.5">1</text><text x="2014" y="551.5">3</text><text x="2245" y="574.5">5</text>
<text x="2110" y="614.5">8</text><text x="2069" y="629.5">3</text><text x="2071" y="668.5">10</text><text x="2188" y="645.5">2</text>
<text x="2148" y="699.5">4</text><text x="2190" y="684.5">3</text><text x="2248" y="679.5">2</text><text x="2318" y="720.5">4</text>
<text x="2369" y="686.5">5</text><text x="2386" y="734.5">6</text><text x="2533" y="672.5">6</text><text x="2247" y="769.5">10</text>
<text x="2259" y="801.5">11</text><text x="2317" y="798.5">2</text><text x="2438" y="803.5">10</text>
</g>
</g>
</svg>
